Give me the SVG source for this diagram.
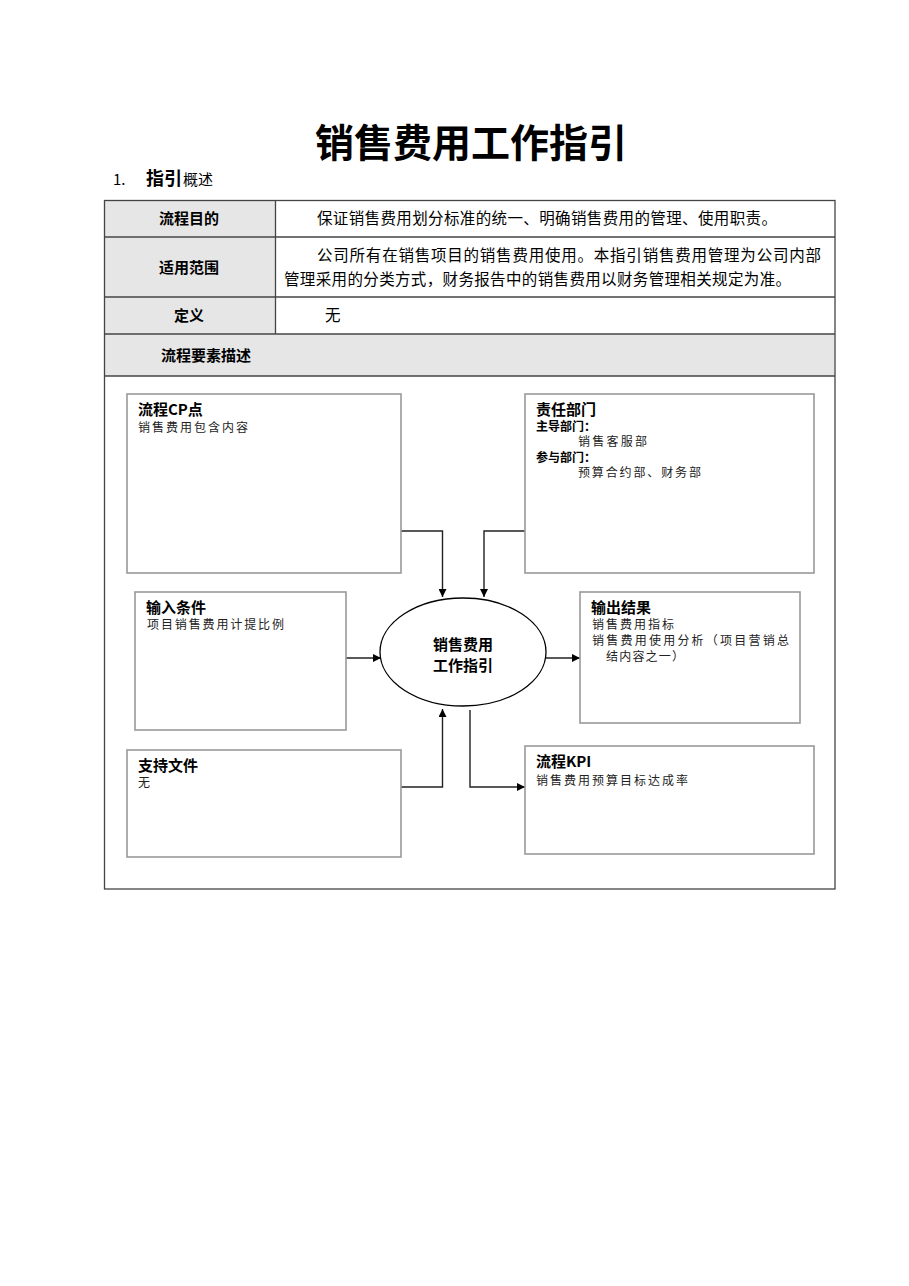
<svg xmlns="http://www.w3.org/2000/svg" width="909" height="1286" viewBox="0 0 909 1286">
<style>
text{font-family:"Noto Sans CJK SC","Liberation Sans",sans-serif;fill:#000}
.b{font-weight:bold}
.tl{stroke:#444;stroke-width:1.3;fill:none}
.hd{fill:#e6e6e6}
.ct{font-size:15.5px}
.th{font-size:15px;font-weight:bold}
.box{fill:#fff;stroke:#999;stroke-width:1.6}
.bt{font-size:15px;font-weight:bold}
.bs{font-size:12px;fill:#222}
.bb{font-size:12px;font-weight:bold}
.con{stroke:#222;stroke-width:1.4;fill:none;marker-end:url(#ah)}
</style>
<defs>
<marker id="ah" viewBox="0 0 10 10" refX="10" refY="5" markerWidth="8" markerHeight="8" markerUnits="userSpaceOnUse" orient="auto">
<path d="M0,0 L10,5 L0,10 z" fill="#000"/>
</marker>
</defs>
<rect width="909" height="1286" fill="#fff"/>
<text x="471" y="157" text-anchor="middle" class="b" font-size="39">销售费用工作指引</text>
<text x="113" y="185" font-size="15" font-family="Liberation Sans">1.</text>
<text x="146" y="185" class="b" font-size="18">指引</text>
<text x="183" y="185" font-size="15">概述</text>
<g id="table">
<rect x="104.5" y="200.5" width="171" height="36" class="hd"/>
<rect x="104.5" y="237" width="171" height="60" class="hd"/>
<rect x="104.5" y="297" width="171" height="37" class="hd"/>
<rect x="104.5" y="334" width="730" height="42" class="hd"/>
<rect x="104.5" y="200.5" width="730.5" height="688.5" class="tl"/>
<line x1="104" y1="237" x2="835" y2="237" class="tl"/>
<line x1="104" y1="297" x2="835" y2="297" class="tl"/>
<line x1="104" y1="334" x2="835" y2="334" class="tl"/>
<line x1="104" y1="376" x2="835" y2="376" class="tl"/>
<line x1="275.5" y1="200" x2="275.5" y2="334" class="tl"/>
<text x="189" y="224" text-anchor="middle" class="th">流程目的</text>
<text x="317" y="224" class="ct" textLength="460">保证销售费用划分标准的统一、明确销售费用的管理、使用职责。</text>
<text x="189" y="273" text-anchor="middle" class="th">适用范围</text>
<text x="317" y="261" class="ct" textLength="504">公司所有在销售项目的销售费用使用。本指引销售费用管理为公司内部</text>
<text x="284" y="285" class="ct" textLength="507">管理采用的分类方式，财务报告中的销售费用以财务管理相关规定为准。</text>
<text x="189" y="321" text-anchor="middle" class="th">定义</text>
<text x="325" y="321" class="ct">无</text>
<text x="161" y="361" class="th">流程要素描述</text>
</g>
<g id="connectors">
<polyline points="401,531 442.5,531 442.5,597" class="con"/>
<polyline points="525,531 484,531 484,597" class="con"/>
<polyline points="346,658 381,658" class="con"/>
<polyline points="546,658 580,658" class="con"/>
<polyline points="401,787 442.5,787 442.5,709" class="con"/>
<polyline points="470,710 470,787 525,787" class="con"/>
</g>
<g id="cp">
<rect x="127" y="394" width="274" height="179" class="box"/>
<text x="138" y="415" class="bt">流程CP点</text>
<text x="138" y="432" class="bs" textLength="110">销售费用包含内容</text>
</g>
<g id="dept">
<rect x="525" y="394" width="289" height="179" class="box"/>
<text x="536" y="415" class="bt">责任部门</text>
<text x="536" y="431" class="bb">主导部门：</text>
<text x="578" y="446" class="bs" textLength="69">销售客服部</text>
<text x="536" y="462" class="bb">参与部门：</text>
<text x="578" y="477" class="bs" textLength="123">预算合约部、财务部</text>
</g>
<g id="input">
<rect x="135" y="592" width="211" height="138" class="box"/>
<text x="146" y="613" class="bt">输入条件</text>
<text x="147" y="629" class="bs" textLength="137">项目销售费用计提比例</text>
</g>
<g id="output">
<rect x="580" y="592" width="220" height="131" class="box"/>
<text x="591" y="613" class="bt">输出结果</text>
<text x="592" y="629" class="bs" textLength="82">销售费用指标</text>
<text x="592" y="645" class="bs" textLength="197">销售费用使用分析（项目营销总</text>
<text x="606" y="661" class="bs" textLength="78">结内容之一）</text>
</g>
<g id="support">
<rect x="127" y="750" width="274" height="107" class="box"/>
<text x="138" y="771" class="bt">支持文件</text>
<text x="138" y="787" class="bs">无</text>
</g>
<g id="kpi">
<rect x="525" y="746" width="289" height="108" class="box"/>
<text x="536" y="767" class="bt">流程KPI</text>
<text x="536" y="785" class="bs" textLength="152">销售费用预算目标达成率</text>
</g>
<g id="center">
<ellipse cx="463" cy="652" rx="83" ry="54" fill="#fff" stroke="#000" stroke-width="1.3"/>
<text x="463" y="650" text-anchor="middle" class="bt">销售费用</text>
<text x="463" y="671" text-anchor="middle" class="bt">工作指引</text>
</g>
</svg>
